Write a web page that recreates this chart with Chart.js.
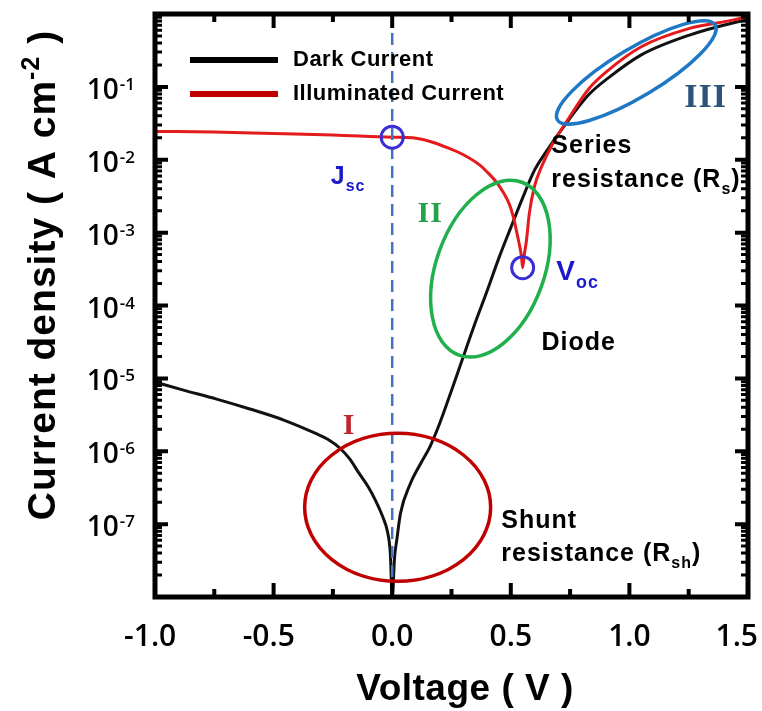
<!DOCTYPE html>
<html>
<head>
<meta charset="utf-8">
<title>Dark and illuminated J-V curves</title>
<script src="https://cdn.jsdelivr.net/npm/chart.js@4.4.1/dist/chart.umd.min.js"></script>
<style>
  html, body { margin: 0; padding: 0; background: #fff; }
  #wrap { width: 762px; height: 711px; }
</style>
</head>
<body>
<div id="wrap"><canvas id="jvChart" width="762" height="711"></canvas></div>
<script>
// values: voltage (V) vs current density (A cm^-2)
const darkVoltage = [-1.0, -0.88, -0.74, -0.6, -0.46, -0.32, -0.27, -0.22, -0.18, -0.14, -0.1, -0.07, -0.04, -0.02, -0.008, 0.0,
  0.01, 0.02, 0.035, 0.075, 0.12, 0.16, 0.2, 0.25, 0.3, 0.35, 0.4, 0.45, 0.5, 0.55, 0.6, 0.65, 0.72,
  0.83, 0.91, 1.05, 1.25, 1.44, 1.5];
const darkCurrent = [8.9e-6, 6.9e-6, 5.2e-6, 3.8e-6, 2.7e-6, 1.74e-6, 1.45e-6, 1.10e-6, 7.9e-7, 5.0e-7, 3.2e-7, 2.1e-7, 1.26e-7, 7.9e-8, 4.0e-8, 1.0e-8,
  3.5e-8, 6.3e-8, 1.41e-7, 3.5e-7, 6.8e-7, 1.17e-6, 2.4e-6, 6.8e-6, 2.0e-5, 5.8e-5, 1.58e-4, 4.5e-4, 1.17e-3, 3.0e-3, 7.2e-3, 1.3e-2, 2.75e-2,
  7.9e-2, 0.132, 0.275, 0.51, 0.76, 0.83];

const lightVoltage = [-1.0, -0.75, -0.5, -0.25, 0.0, 0.086, 0.16, 0.229, 0.3, 0.368, 0.41, 0.44, 0.47, 0.494, 0.512, 0.524, 0.537, 0.545, 0.55,
  0.557, 0.566, 0.578, 0.599, 0.633, 0.675, 0.734, 0.83, 0.9, 1.05, 1.25, 1.44, 1.5];
const lightCurrent = [0.0245, 0.024, 0.0229, 0.0219, 0.0204, 0.020, 0.0178, 0.0148, 0.0117, 8.5e-3, 6.3e-3, 4.9e-3, 3.5e-3, 2.45e-3, 1.58e-3, 1.05e-3, 6.6e-4, 4.7e-4, 3.3e-4,
  5.0e-4, 7.8e-4, 1.82e-3, 4.2e-3, 8.5e-3, 0.0162, 0.033, 0.095, 0.158, 0.355, 0.63, 0.83, 0.93];

const xTicks = [-1.0, -0.5, 0.0, 0.5, 1.0, 1.5];
const yDecades = [-7, -6, -5, -4, -3, -2, -1];

// short-circuit and open-circuit points
const jscPoint = { x: 0.0, y: 0.0204 };
const vocPoint = { x: 0.55, y: 3.3e-4 };

// region ellipses (centre in data units, radii in px)
const regions = [
  { v: 0.023, j: 1.7e-7, rx: 93, ry: 74, rot: 0, color: '#C00000' },
  { v: 0.414, j: 3.2e-4, rx: 54, ry: 92, rot: 20, color: '#1FAF4B' },
  { v: 1.029, j: 0.158, rx: 92, ry: 24, rot: -31, color: '#1F78C4' }
];

const SANS = '"Liberation Sans", Arial, sans-serif';
const SERIF = '"Liberation Serif", "Times New Roman", serif';
const TICKFONT = '"Open Sans", "Noto Sans", sans-serif';

// text notes, anchored at left/baseline in data units
const notes = [
  { v: -0.209, j: 1.74e-6, parts: [{ t: 'I' }], size: 30, family: SERIF, color: '#C0272D' },
  { v: 0.107, j: 1.40e-3, parts: [{ t: 'II' }], size: 30, family: SERIF, color: '#22A24A' },
  { v: 1.231, j: 0.0528, parts: [{ t: 'III' }], size: 34, family: SERIF, color: '#2F527A' },
  { v: -0.259, j: 4.6e-3, parts: [{ t: 'J' }, { t: 'sc', sub: true }], size: 25, family: SANS, color: '#1A1ACC' },
  { v: 0.692, j: 2.21e-4, parts: [{ t: 'V' }, { t: 'oc', sub: true }], size: 28, family: SANS, color: '#1A1ACC' },
  { v: 0.671, j: 0.01253, parts: [{ t: 'Series' }], size: 25, family: SANS, color: '#000' },
  { v: 0.671, j: 4.19e-3, parts: [{ t: 'resistance (R' }, { t: 's', sub: true }, { t: ')' }], size: 25, family: SANS, color: '#000' },
  { v: 0.629, j: 2.48e-5, parts: [{ t: 'Diode' }], size: 25, family: SANS, color: '#000' },
  { v: 0.460, j: 8.9e-8, parts: [{ t: 'Shunt' }], size: 25, family: SANS, color: '#000' },
  { v: 0.460, j: 3.16e-8, parts: [{ t: 'resistance (R' }, { t: 'sh', sub: true }, { t: ')' }], size: 25, family: SANS, color: '#000' }
];

function zip(xs, ys) {
  return xs.map((x, i) => ({ x: x, y: ys[i] }));
}

// draws text with sub/superscript pieces
function drawRich(ctx, x, y, parts, size, family, color) {
  ctx.fillStyle = color;
  ctx.textAlign = 'left';
  ctx.textBaseline = 'alphabetic';
  let cx = x;
  parts.forEach(p => {
    const s = (p.sub || p.sup) ? size * 0.64 : size;
    ctx.font = 'bold ' + s + 'px ' + family;
    const dy = p.sub ? size * 0.28 : (p.sup ? -size * 0.42 : 0);
    ctx.fillText(p.t, cx, y + dy);
    cx += ctx.measureText(p.t).width;
  });
  return cx;
}

function richWidth(ctx, parts, size, family) {
  let w = 0;
  parts.forEach(p => {
    const s = (p.sub || p.sup) ? size * 0.64 : size;
    ctx.font = 'bold ' + s + 'px ' + family;
    w += ctx.measureText(p.t).width;
  });
  return w;
}

const decorPlugin = {
  id: 'decor',
  afterDatasetsDraw(chart) {
    const ctx = chart.ctx;
    const xs = chart.scales.x, ys = chart.scales.y;
    const a = chart.chartArea;

    ctx.save();
    ctx.beginPath();
    ctx.rect(a.left, a.top, a.right - a.left, a.bottom - a.top);
    ctx.clip();
    regions.forEach(r => {
      ctx.beginPath();
      ctx.ellipse(xs.getPixelForValue(r.v), ys.getPixelForValue(r.j), r.rx, r.ry, r.rot * Math.PI / 180, 0, Math.PI * 2);
      ctx.lineWidth = 3.5;
      ctx.strokeStyle = r.color;
      ctx.stroke();
    });
    ctx.restore();

    ctx.save();
    ctx.letterSpacing = '1px';
    notes.forEach(n => {
      drawRich(ctx, xs.getPixelForValue(n.v), ys.getPixelForValue(n.j), n.parts, n.size, n.family, n.color);
    });

    // legend
    ctx.letterSpacing = '0.5px';
    const lx = a.left + 35, ly = a.top + 46;
    chart.data.datasets.slice(0, 2).forEach((ds, i) => {
      const y = ly + i * 34;
      ctx.beginPath();
      ctx.moveTo(lx, y);
      ctx.lineTo(lx + 88, y);
      ctx.lineWidth = 6;
      ctx.strokeStyle = ds.legendColor;
      ctx.stroke();
      ctx.fillStyle = '#000';
      ctx.font = 'bold 22px ' + SANS;
      ctx.textBaseline = 'middle';
      ctx.textAlign = 'left';
      ctx.fillText(ds.label, lx + 103, y);
    });
    ctx.restore();
  },
  afterDraw(chart) {
    const ctx = chart.ctx;
    const xs = chart.scales.x, ys = chart.scales.y;
    const a = chart.chartArea;
    ctx.save();
    ctx.strokeStyle = '#000';
    ctx.lineCap = 'butt';

    // inward ticks, x (bottom and top)
    ctx.lineWidth = 4;
    for (let k = 1; k < 10; k++) {
      const v = -1 + k * 0.25;
      const px = xs.getPixelForValue(v);
      const len = (k % 2 === 0) ? 14 : 8;
      ctx.beginPath();
      ctx.moveTo(px, a.bottom); ctx.lineTo(px, a.bottom - len);
      ctx.moveTo(px, a.top); ctx.lineTo(px, a.top + len);
      ctx.stroke();
    }
    // inward ticks, y (left and right)
    for (let d = -8; d < 0; d++) {
      for (let m = 1; m < 10; m++) {
        if (d === -8 && m === 1) continue;
        const py = ys.getPixelForValue(m * Math.pow(10, d));
        const len = m === 1 ? 13 : 7;
        ctx.lineWidth = m === 1 ? 4 : 3;
        ctx.beginPath();
        ctx.moveTo(a.left, py); ctx.lineTo(a.left + len, py);
        ctx.moveTo(a.right, py); ctx.lineTo(a.right - len, py);
        ctx.stroke();
      }
    }

    // frame
    ctx.lineWidth = 5;
    ctx.strokeRect(a.left, a.top, a.right - a.left, a.bottom - a.top);

    ctx.fillStyle = '#000';
    // x tick labels: the unsigned part sits centred on the tick
    ctx.font = '600 30px ' + TICKFONT;
    ctx.textBaseline = 'alphabetic';
    ctx.textAlign = 'left';
    xTicks.forEach(v => {
      const txt = v.toFixed(1);
      const core = Math.abs(v).toFixed(1);
      const cw = ctx.measureText(core).width;
      const fw = ctx.measureText(txt).width;
      let left = xs.getPixelForValue(v) - cw / 2 - (fw - cw);
      left = Math.min(left, chart.width - fw - 4);
      ctx.fillText(txt, left, a.bottom + 49);
    });

    // y tick labels 10^n
    yDecades.forEach(d => {
      const py = ys.getPixelForValue(Math.pow(10, d));
      const exp = String(d);
      ctx.font = '600 17px ' + TICKFONT;
      const ew = ctx.measureText(exp).width;
      const right = a.left - 20;
      ctx.textAlign = 'left';
      ctx.fillText(exp, right - ew, py + 3);
      ctx.font = '600 28px ' + TICKFONT;
      ctx.textAlign = 'right';
      ctx.fillText('10', right - ew - 1, py + 12);
    });

    // x axis title
    ctx.letterSpacing = '0.5px';
    ctx.font = 'bold 37px ' + SANS;
    ctx.textAlign = 'center';
    ctx.fillText('Voltage ( V )', 465, 700);

    // y axis title, rotated
    ctx.letterSpacing = '1px';
    const titleParts = [{ t: 'Current density ( A cm' }, { t: '-2', sup: true }, { t: ' )' }];
    const tsize = 39;
    const tw = richWidth(ctx, titleParts, tsize, SANS);
    ctx.translate(55, 275);
    ctx.rotate(-Math.PI / 2);
    drawRich(ctx, -tw / 2, 0, titleParts, tsize, SANS, '#000');
    ctx.restore();
  }
};

const ctx = document.getElementById('jvChart').getContext('2d');
new Chart(ctx, {
  type: 'scatter',
  data: {
    datasets: [
      {
        label: 'Dark Current',
        data: zip(darkVoltage, darkCurrent),
        showLine: true,
        borderColor: '#111111',
        legendColor: '#000000',
        borderWidth: 3,
        pointRadius: 0,
        cubicInterpolationMode: 'monotone',
        order: 4
      },
      {
        label: 'Illuminated Current',
        data: zip(lightVoltage, lightCurrent),
        showLine: true,
        borderColor: '#E41A1C',
        legendColor: '#C00000',
        borderWidth: 3,
        pointRadius: 0,
        cubicInterpolationMode: 'monotone',
        order: 3
      },
      {
        label: 'V = 0',
        data: [{ x: 0, y: 1 }, { x: 0, y: 1e-8 }],
        showLine: true,
        borderColor: '#4472C4',
        borderWidth: 2.5,
        borderDash: [12, 7],
        pointRadius: 0,
        order: 2
      },
      {
        label: 'Jsc / Voc',
        data: [jscPoint, vocPoint],
        showLine: false,
        pointRadius: 11,
        pointBorderWidth: 3,
        pointBorderColor: '#3B2FD4',
        pointBackgroundColor: 'rgba(0,0,0,0)',
        order: 1
      }
    ]
  },
  options: {
    responsive: false,
    animation: false,
    devicePixelRatio: 1,
    layout: { padding: { left: 0, right: 13, top: 8, bottom: 0 } },
    plugins: {
      legend: { display: false },
      tooltip: { enabled: false }
    },
    scales: {
      x: {
        type: 'linear',
        min: -1.0,
        max: 1.5,
        ticks: { display: false },
        grid: { display: false, drawTicks: false },
        border: { display: false },
        afterFit: s => { s.height = 114; s.paddingLeft = 0; s.paddingRight = 0; }
      },
      y: {
        type: 'logarithmic',
        min: 1e-8,
        max: 1,
        ticks: { display: false },
        grid: { display: false, drawTicks: false },
        border: { display: false },
        afterFit: s => { s.width = 155; s.paddingTop = 0; s.paddingBottom = 0; }
      }
    }
  },
  plugins: [decorPlugin]
});
</script>
</body>
</html>
